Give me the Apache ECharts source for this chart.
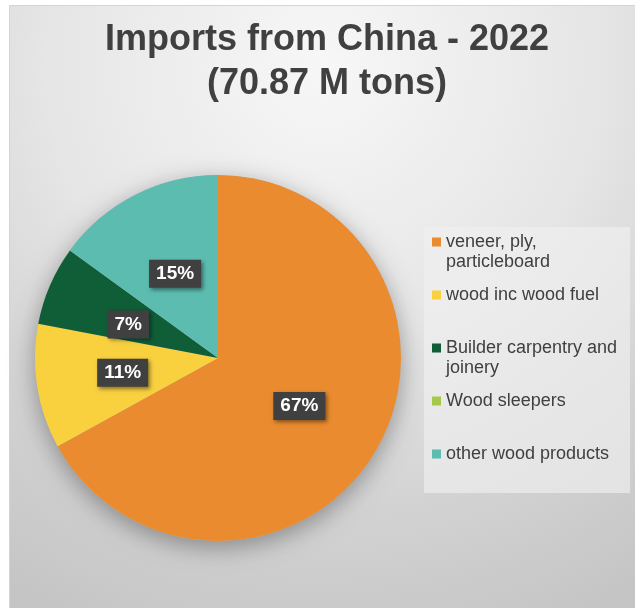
<!DOCTYPE html>
<html>
<head>
<meta charset="utf-8">
<script src="https://cdn.jsdelivr.net/npm/echarts@6/dist/echarts.min.js"></script>
<style>
  html, body { margin: 0; padding: 0; background: #fff; }
  #chart { width: 635px; height: 608px; }
</style>
</head>
<body>
<div id="chart"></div>
<script>
// Share of 2022 wood imports from China, by product group (percent of 70.87 M tons)
const categories = [
  'veneer, ply, particleboard',
  'wood inc wood fuel',
  'Builder carpentry and joinery',
  'Wood sleepers',
  'other wood products'
];
const shares = [67, 11, 7, 0, 15];
const legendLabels = [
  'veneer, ply,\nparticleboard',
  'wood inc wood fuel\n ',
  'Builder carpentry and\njoinery',
  'Wood sleepers\n ',
  'other wood products\n '
];
const sliceColors = ['#E98B2E', '#F9D03E', '#0F5E38', '#A6C94B', '#5CBCB0'];
const titleText = 'Imports from China - 2022\n(70.87 M tons)';

const FONT = '"Liberation Sans", Arial, sans-serif';
const center = [218, 358];
const radius = 183;

const legendMap = {};
categories.forEach((c, i) => { legendMap[c] = legendLabels[i]; });

const chart = echarts.init(document.getElementById('chart'), null, { renderer: 'canvas' });

chart.setOption({
  animation: false,
  backgroundColor: '#ffffff',
  graphic: [{
    type: 'rect',
    z: -10,
    silent: true,
    shape: { x: 9.5, y: 5.5, width: 626, height: 603 },
    style: {
      fill: new echarts.graphic.RadialGradient(0.5, 0.1, 1.0, [
        { offset: 0, color: '#f7f7f7' },
        { offset: 0.45, color: '#e6e6e6' },
        { offset: 0.75, color: '#d2d2d2' },
        { offset: 1, color: '#c5c5c5' }
      ]),
      stroke: '#d4d4d4',
      lineWidth: 1
    }
  }],
  title: {
    text: titleText,
    left: 327,
    top: 18,
    padding: 0,
    textAlign: 'center',
    textStyle: {
      fontFamily: FONT,
      fontSize: 36,
      fontWeight: 'bold',
      color: '#404040',
      lineHeight: 44
    }
  },
  legend: {
    orient: 'vertical',
    left: 424,
    top: 227,
    padding: [5, 13, 9, 8],
    itemGap: 13,
    itemWidth: 9,
    itemHeight: 29,
    icon: 'path://M0,0L9,0L9,9L0,9Z M0,29L9,29Z',
    backgroundColor: 'rgba(240,240,240,0.65)',
    itemStyle: { borderWidth: 0 },
    data: categories,
    formatter: name => legendMap[name],
    textStyle: {
      fontFamily: FONT,
      fontSize: 18,
      lineHeight: 20,
      color: '#404040'
    },
    selectedMode: false
  },
  series: [
    {
      // backing disc that casts the soft shadow under the pie
      type: 'pie',
      center: center,
      radius: radius,
      silent: true,
      z: 1,
      label: { show: false },
      labelLine: { show: false },
      itemStyle: {
        color: '#bdbdbd',
        borderWidth: 0,
        shadowBlur: 24,
        shadowOffsetY: 6,
        shadowColor: 'rgba(0,0,0,0.35)'
      },
      data: [{ name: '_disc', value: 1 }]
    },
    {
      type: 'pie',
      center: center,
      radius: radius,
      startAngle: 90,
      clockwise: true,
      avoidLabelOverlap: false,
      z: 2,
      color: sliceColors,
      itemStyle: { borderWidth: 0 },
      emphasis: { disabled: true },
      labelLine: { show: false },
      label: {
        show: true,
        position: 'inside',
        formatter: p => Math.round(p.percent) + '%',
        fontFamily: FONT,
        fontSize: 19,
        fontWeight: 'bold',
        lineHeight: 19,
        color: '#ffffff',
        backgroundColor: '#404040',
        padding: [5, 7, 4, 7],
        shadowBlur: 4,
        shadowOffsetX: 2,
        shadowOffsetY: 2,
        shadowColor: 'rgba(0,0,0,0.45)'
      },
      labelLayout: p => {
        if (p.dataIndex === 1) return { dx: -2, moveOverlap: false, hideOverlap: false };
        if (p.dataIndex === 2) return { dy: 4, dx: -3, moveOverlap: false, hideOverlap: false };
        return { moveOverlap: false, hideOverlap: false };
      },
      data: categories.map((c, i) => ({
        name: c,
        value: shares[i],
        label: shares[i] > 0 ? {} : { show: false }
      }))
    }
  ]
});
</script>
</body>
</html>
